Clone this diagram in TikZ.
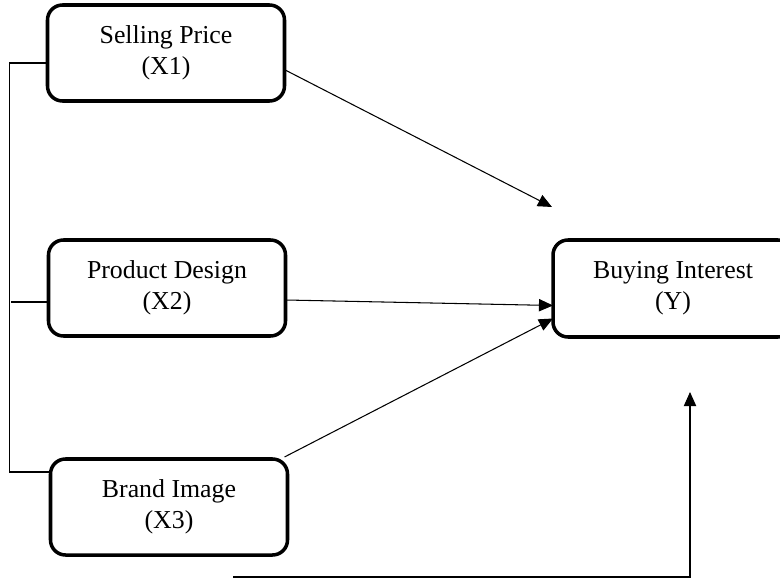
\documentclass[tikz,border=0pt]{standalone}
\usepackage{fontspec}
\setmainfont{Liberation Serif}
\usepackage{tikz}
\usetikzlibrary{arrows.meta,positioning,calc}

\begin{document}
\begin{tikzpicture}[
    varbox/.style={draw,line width=2pt,rounded corners=0.3cm,align=center,
      minimum width=4.74cm,minimum height=1.92cm,inner sep=0pt,outer sep=0pt,
      font=\fontsize{14.7}{17.5}\selectfont},
    link/.style={line width=0.6pt},
    arr/.style={link,-{Triangle[length=8pt,width=7pt]}}
  ]
  \useasboundingbox (0,0) rectangle (15.6,-11.64);
  % Variables
  \node[varbox] (X1) at (3.32,-1.06) {Selling Price\\(X1)};
  \node[varbox] (X2) at (3.34,-5.76) {Product Design\\(X2)};
  \node[varbox] (X3) at (3.38,-10.14) {Brand Image\\(X3)};
  \node[varbox,minimum width=4.8cm,minimum height=1.94cm] (Y) at (13.46,-5.77) {Buying Interest\\(Y)};
  % Free ends
  \coordinate (t1) at ($(Y.north west)+(-0.02,0.66)$);
  \coordinate (fb) at (4.66,-11.54);
  \coordinate (fbtip) at (13.8,-7.84);
  % Arrows to Y
  \draw[arr] (X1.-8) -- (t1);
  \draw[arr] ($(X2.east)+(0,-0.24)$) -- ($(Y.west)+(0,-0.34)$);
  \draw[arr] ($(X3.north east)+(-0.06,0.04)$) -- ($(Y.west)+(0,-0.6)$);
  \draw[arr] (fb) -| (fbtip);
  % Left bracket
  \draw[link] ($(X1.west)+(0,-0.2)$) -| ($(X3.west)+(-0.82,0.7)$) -- ($(X3.west)+(0,0.7)$);
  \draw[link] ($(X2.west)+(0,-0.28)$) -- ++(-0.76,0);
\end{tikzpicture}
\end{document}
